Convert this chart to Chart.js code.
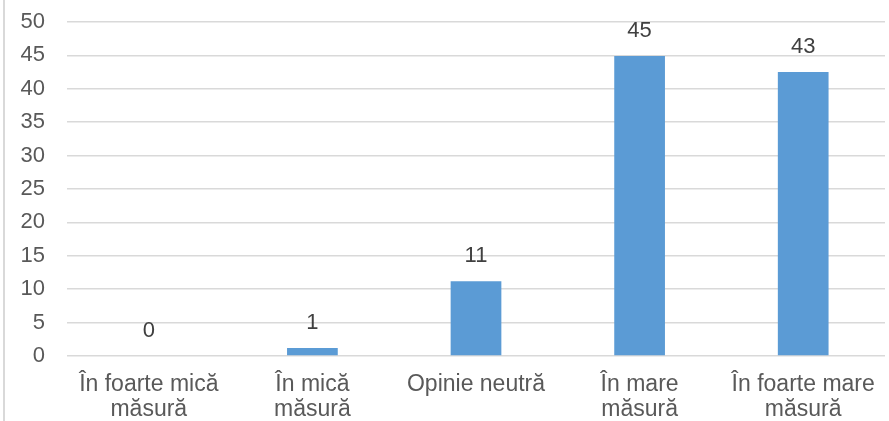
<!DOCTYPE html>
<html>
<head>
<meta charset="utf-8">
<script src="https://cdn.jsdelivr.net/npm/chart.js@4"></script>
<style>
  body { margin: 0; background: #fff; }
  #wrap { position: relative; width: 889px; height: 421px; }
</style>
</head>
<body>
<div id="wrap"><canvas id="myChart"></canvas></div>
<script>
const categories = [
    ["În foarte mică", "măsură"],
    ["În mică", "măsură"],
    ["Opinie neutră"],
    ["În mare", "măsură"],
    ["În foarte mare", "măsură"]
];
const values = [0, 1.2, 11.2, 44.9, 42.5];
const valueLabels = ["0", "1", "11", "45", "43"];

// value labels above bars + left frame line
const extras = {
    id: 'extras',
    afterDatasetsDraw(chart) {
        const ctx = chart.ctx;
        const meta = chart.getDatasetMeta(0);
        ctx.save();
        ctx.font = '22px "Liberation Sans", Arial, sans-serif';
        ctx.fillStyle = '#404040';
        ctx.textAlign = 'center';
        ctx.textBaseline = 'middle';
        meta.data.forEach((bar, i) => {
            ctx.fillText(valueLabels[i], bar.x, bar.y - 25);
        });
        ctx.strokeStyle = '#d9d9d9';
        ctx.lineWidth = 2;
        ctx.beginPath();
        ctx.moveTo(4, 0);
        ctx.lineTo(4, chart.height);
        ctx.stroke();
        ctx.restore();
    }
};

const ctx = document.getElementById("myChart").getContext("2d");

const chart = new Chart(ctx, {
    type: 'bar',
    data: {
        labels: categories,
        datasets: [{
            data: values,
            backgroundColor: '#5b9bd5',
            barPercentage: 0.62,
            categoryPercentage: 0.5
        }]
    },
    options: {
        responsive: true,
        maintainAspectRatio: false,
        animation: false,
        layout: { padding: { top: 22, right: 4, left: 0, bottom: 0 } },
        plugins: {
            legend: { display: false },
            tooltip: { enabled: false }
        },
        scales: {
            x: {
                grid: { display: false, drawTicks: false },
                border: { display: false },
                ticks: {
                    color: '#595959',
                    font: { family: '"Liberation Sans", Arial, sans-serif', size: 23, lineHeight: 1.1 },
                    padding: 16,
                    maxRotation: 0,
                    autoSkip: false
                },
                afterFit(scale) { scale.height = 65; scale.paddingLeft = 0; scale.paddingRight = 0; }
            },
            y: {
                min: 0,
                max: 50,
                ticks: {
                    stepSize: 5,
                    color: '#595959',
                    font: { family: '"Liberation Sans", Arial, sans-serif', size: 22 },
                    padding: 22
                },
                grid: { color: '#d9d9d9', lineWidth: 1.5, drawTicks: false },
                border: { display: false },
                afterFit(scale) { scale.width = 67; scale.paddingTop = 0; scale.paddingBottom = 0; }
            }
        }
    },
    plugins: [extras]
});
</script>
</body>
</html>
